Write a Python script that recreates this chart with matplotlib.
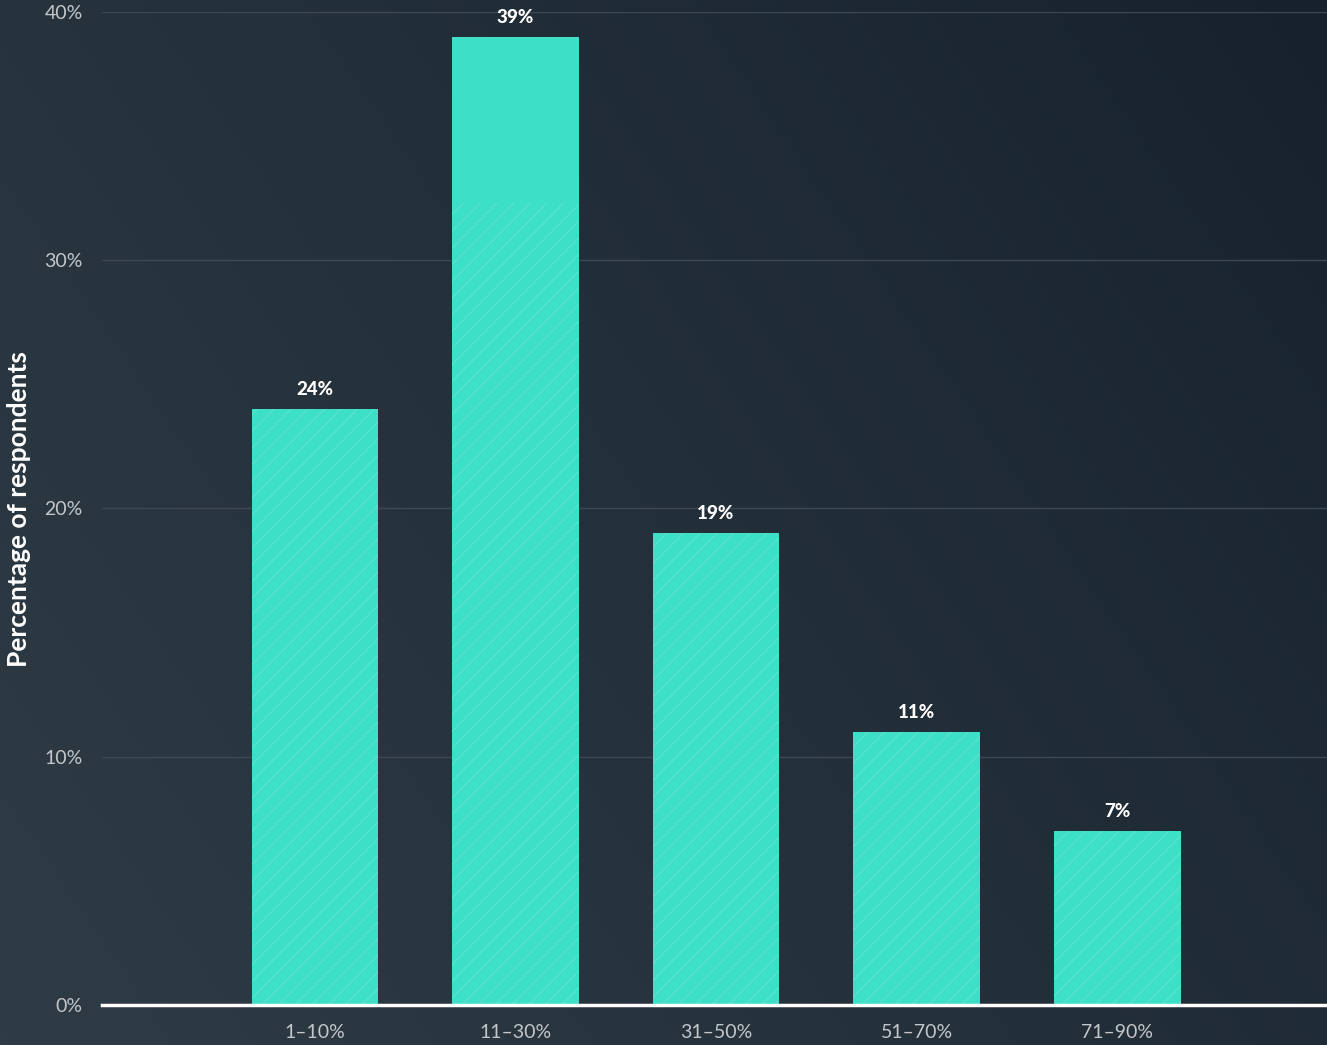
import numpy as np
import matplotlib.pyplot as plt
from matplotlib.colors import LinearSegmentedColormap

categories = ['1–10%', '11–30%', '31–50%', '51–70%', '71–90%']
values = [24, 39, 19, 11, 7]
yticks = [0, 10, 20, 30, 40]

plt.rcParams['font.family'] = ['Lato', 'DejaVu Sans']
plt.rcParams['hatch.linewidth'] = 0.8

fig = plt.figure(figsize=(13.27, 10.45), dpi=100)

# gradient background
bg = fig.add_axes([0, 0, 1, 1], zorder=-10)
gx, gy = np.meshgrid(np.linspace(0, 1, 300), np.linspace(0, 1, 300))
g = 0.65 * gx + 0.35 * gy
cmap = LinearSegmentedColormap.from_list('bg', ['#2f3b45', '#243039', '#16212c'])
bg.imshow(g, cmap=cmap, extent=[0, 1, 0, 1], origin='lower', aspect='auto')
bg.axis('off')

ax = fig.add_axes([0.0769, 0.0383, 0.9231, 0.9502])
ax.set_facecolor('none')
x = np.arange(len(categories))
teal = '#3de0c7'
ax.bar(x, values, width=0.633, color=teal, zorder=3)
# hatch texture only in the lower part of the plot
ax.bar(x, np.minimum(values, 32.3), width=0.633, facecolor='none',
       edgecolor=(1, 1, 1, 0.16), hatch='//', linewidth=0, zorder=4)

for xi, v in zip(x, values):
    ax.text(xi, v + 0.45, f'{v}%', ha='center', va='bottom', color='white',
            fontsize=13.5, fontweight='black', zorder=5)

ax.set_xlim(-1.062, 5.047)
ax.set_ylim(0, 40)
ax.set_yticks(yticks)
ax.set_yticklabels([f'{t}%' for t in yticks])
ax.set_xticks(x)
ax.set_xticklabels(categories)
ax.tick_params(axis='both', length=0, colors='#c3c7cb', labelsize=14)
ax.tick_params(axis='y', pad=14)
ax.tick_params(axis='x', pad=14)
ax.grid(axis='y', color='#3d4853', linewidth=1, zorder=0)
for s in ['top', 'right', 'left']:
    ax.spines[s].set_visible(False)
ax.spines['bottom'].set_color('white')
ax.spines['bottom'].set_linewidth(2.5)
ax.spines['bottom'].set_zorder(6)

fig.text(0.014, 0.513, 'Percentage of respondents', rotation=90, color='white',
         fontsize=19, fontweight='bold', ha='center', va='center')

fig.savefig('out.png', dpi=100)
